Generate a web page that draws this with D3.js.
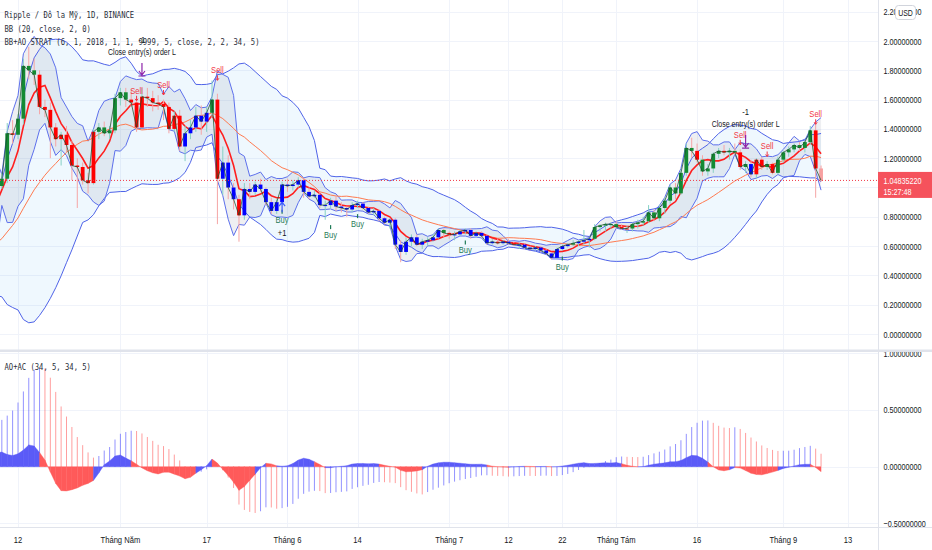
<!DOCTYPE html>
<html>
<head>
<meta charset="utf-8">
<script src="https://cdn.jsdelivr.net/npm/d3@7"></script>
<style>
  html, body { margin: 0; padding: 0; background: #fff; }
  svg { display: block; }
</style>
</head>
<body>
<svg id="chart" width="932" height="550"></svg>
<script>
// ---- data (XRPUSDT daily, Binance) ----
const firstDay = "2021-04-09";

// closes before the first visible bar, only used to seed BB / AO
const preCloses = [0.44,
  0.45,0.44,0.44,0.45,0.45,0.45,0.46,0.45,0.45,0.44,
  0.45,0.44,0.43,0.43,0.47,0.48,0.47,0.46,0.46,0.46,
  0.46,0.51,0.52,0.53,0.53,0.55,0.57,0.57,0.57,
  0.57,0.59,0.60,0.61,0.93,1.02,0.92,0.99];

// [open, high, low, close]
const ohlc = [
  // April 9 - 30
  [1.01,1.10,0.99,1.06],[1.06,1.44,1.03,1.37],[1.37,1.46,1.30,1.36],[1.36,1.50,1.33,1.47],
  [1.47,1.88,1.43,1.83],[1.83,1.96,1.74,1.80],[1.80,1.88,1.70,1.77],[1.77,1.80,1.50,1.55],
  [1.55,1.60,1.48,1.53],[1.53,1.58,1.20,1.41],[1.41,1.44,1.28,1.33],[1.33,1.38,1.15,1.36],
  [1.36,1.42,1.24,1.29],[1.29,1.32,1.05,1.15],[1.15,1.20,0.86,1.14],[1.14,1.17,1.02,1.05],
  [1.05,1.10,0.96,1.03],[1.03,1.40,1.02,1.38],[1.38,1.44,1.33,1.41],[1.41,1.45,1.35,1.37],
  [1.37,1.42,1.33,1.39],[1.39,1.64,1.37,1.61],
  // May
  [1.61,1.68,1.56,1.65],[1.65,1.68,1.55,1.60],[1.60,1.67,1.55,1.58],[1.58,1.62,1.38,1.41],
  [1.41,1.68,1.40,1.62],[1.62,1.68,1.55,1.61],[1.61,1.66,1.52,1.58],[1.58,1.63,1.53,1.57],
  [1.57,1.60,1.46,1.55],[1.55,1.58,1.37,1.40],[1.40,1.52,1.38,1.49],[1.49,1.53,1.25,1.28],
  [1.28,1.42,1.18,1.37],[1.37,1.46,1.33,1.41],[1.41,1.55,1.38,1.49],[1.49,1.56,1.36,1.45],
  [1.45,1.55,1.38,1.51],[1.51,1.73,1.48,1.60],[1.60,1.64,0.75,1.06],[1.06,1.28,0.95,1.17],
  [1.17,1.22,0.92,1.00],[1.00,1.03,0.85,0.92],[0.92,0.95,0.63,0.81],[0.81,1.03,0.78,0.99],
  [0.99,1.03,0.92,0.97],[0.97,1.04,0.95,1.02],[1.02,1.06,0.97,0.99],[0.99,1.00,0.88,0.90],
  [0.90,0.93,0.82,0.84],[0.84,0.92,0.82,0.90],[0.90,1.04,0.88,1.02],
  // June
  [1.02,1.06,0.97,1.01],[1.01,1.05,0.98,1.02],[1.02,1.07,1.00,1.05],[1.05,1.06,0.93,0.97],
  [0.97,1.00,0.92,0.94],[0.94,0.98,0.93,0.95],[0.95,0.97,0.86,0.88],[0.88,0.91,0.78,0.88],
  [0.88,0.93,0.86,0.91],[0.91,0.94,0.84,0.87],[0.87,0.90,0.83,0.86],[0.86,0.87,0.80,0.85],
  [0.85,0.90,0.83,0.88],[0.88,0.91,0.86,0.89],[0.89,0.90,0.85,0.86],[0.86,0.87,0.82,0.83],
  [0.83,0.86,0.81,0.84],[0.84,0.85,0.77,0.79],[0.79,0.80,0.75,0.76],[0.76,0.79,0.72,0.78],
  [0.78,0.79,0.58,0.61],[0.61,0.64,0.49,0.56],[0.56,0.66,0.54,0.63],[0.63,0.68,0.60,0.66],
  [0.66,0.68,0.60,0.61],[0.61,0.65,0.58,0.63],[0.63,0.66,0.60,0.64],[0.64,0.68,0.63,0.66],
  [0.66,0.72,0.65,0.71],[0.71,0.72,0.66,0.69],
  // July
  [0.69,0.70,0.65,0.68],[0.68,0.70,0.64,0.68],[0.68,0.71,0.67,0.70],[0.70,0.72,0.68,0.71],
  [0.71,0.72,0.65,0.67],[0.67,0.70,0.66,0.69],[0.69,0.70,0.66,0.67],[0.67,0.68,0.61,0.62],
  [0.62,0.65,0.61,0.63],[0.63,0.65,0.61,0.62],[0.62,0.64,0.61,0.63],[0.63,0.65,0.61,0.62],
  [0.62,0.63,0.60,0.61],[0.61,0.62,0.58,0.61],[0.61,0.62,0.58,0.59],[0.59,0.60,0.57,0.58],
  [0.58,0.60,0.57,0.59],[0.59,0.60,0.56,0.57],[0.57,0.58,0.54,0.55],[0.55,0.56,0.51,0.52],
  [0.52,0.59,0.51,0.58],[0.58,0.61,0.57,0.60],[0.60,0.62,0.59,0.61],[0.61,0.64,0.60,0.62],
  [0.62,0.64,0.60,0.63],[0.63,0.71,0.61,0.64],[0.64,0.66,0.59,0.65],[0.65,0.75,0.64,0.73],
  [0.73,0.75,0.70,0.74],[0.74,0.76,0.70,0.75],[0.75,0.76,0.72,0.75],
  // August
  [0.75,0.77,0.72,0.73],[0.73,0.75,0.71,0.72],[0.72,0.74,0.69,0.72],[0.72,0.76,0.70,0.75],
  [0.75,0.78,0.72,0.76],[0.76,0.80,0.74,0.77],[0.77,0.88,0.76,0.83],[0.83,0.85,0.77,0.79],
  [0.79,0.88,0.77,0.86],[0.86,0.93,0.82,0.91],[0.91,1.02,0.89,1.00],[1.00,1.03,0.92,0.96],
  [0.96,1.12,0.95,1.10],[1.10,1.30,1.08,1.27],[1.27,1.34,1.20,1.25],[1.25,1.30,1.17,1.19],
  [1.19,1.22,1.08,1.11],[1.11,1.16,1.08,1.13],[1.13,1.24,1.10,1.23],[1.23,1.27,1.20,1.25],
  [1.25,1.29,1.22,1.24],[1.24,1.27,1.19,1.25],[1.25,1.30,1.22,1.24],[1.24,1.26,1.12,1.14],
  [1.14,1.18,1.10,1.16],[1.16,1.19,1.07,1.09],[1.09,1.20,1.06,1.19],[1.19,1.21,1.12,1.14],
  [1.14,1.18,1.12,1.16],[1.16,1.17,1.09,1.10],[1.10,1.21,1.09,1.19],
  // September 1 - 8
  [1.19,1.25,1.17,1.24],[1.24,1.28,1.21,1.26],[1.26,1.30,1.24,1.29],[1.29,1.31,1.25,1.27],
  [1.27,1.32,1.24,1.31],[1.31,1.42,1.29,1.39],[1.39,1.45,0.93,1.13],[1.13,1.15,1.04,1.0483522]
];

// strategy bar colour per candle: g = green, r = red, b = blue, l = live bar
const barColors = (
  "ggrgggg" + "rrrrrrrrrrr" + "gggg" +                                   // Apr
  "gg" + "rrrrrrrrrr" + "bbbbb" + "g" + "r" + "bbb" + "r" + "bbbbbbbb" +   // May
  "bbbbbbbbbbbbbbbbbbbbbbbbbbbbb" + "g" +                                // Jun
  "r" + "bbbbbbbb" + "r" + "bb" + "r" + "bbbbbbbbbb" + "g" + "bbb" + "gggg" + // Jul
  "g" + "rr" + "gggggggggggg" + "r" + "gggg" + "r" + "gg" + "r" + "g" + "b" + "rr" + "g" + "r" + "g" + // Aug
  "ggggggrl"                                                              // Sep
).split("");

const lastPrice = 1.04835220;
const lastTime = "15:27:48";

const priceTicks = [0, 0.2, 0.4, 0.6, 0.8, 1.2, 1.4, 1.6, 1.8, 2.0, 2.2]; // 1.0 sits under the price tag
const aoTicks = [1, 0.5, 0, -0.5];
const tickDates = ["2021-04-12","2021-05-01","2021-05-17","2021-06-01","2021-06-14","2021-07-01",
                   "2021-07-12","2021-07-22","2021-08-01","2021-08-16","2021-09-01","2021-09-13"];
const tickLabels = ["12","Tháng Năm","17","Tháng 6","14","Tháng 7","12","22","Tháng Tám","16","Tháng 9","13"];

const sellDates = ["2021-05-04","2021-05-09","2021-05-19","2021-08-24","2021-08-29","2021-09-07"];
const sellLevels = [1.66, 1.70, 1.80, 1.36, 1.28, 1.50];
const buyDates = ["2021-05-31","2021-06-09","2021-06-14","2021-07-04","2021-07-22"];
const buyLevels = [0.78, 0.675, 0.75, 0.57, 0.46];
const exitDates = ["2021-05-05","2021-08-25"];
const exitLevels = [1.925, 1.433];
const entryDates = ["2021-05-31"];
const entryLevels = [0.90];

// ---- indicators ----
const parse = d3.utcParse("%Y-%m-%d");
const day0 = parse(firstDay);
const nPre = preCloses.length;
const allDates = d3.range(-nPre, ohlc.length).map(i => d3.utcDay.offset(day0, i));
const allClose = preCloses.concat(ohlc.map(d => d[3]));
const allMedian = preCloses.concat(ohlc.map(d => (d[1] + d[2]) / 2));

function sma(arr, n) {
  return arr.map((_, i) => {
    if (i < n - 1 || arr[i - n + 1] == null) return null;
    return d3.mean(arr.slice(i - n + 1, i + 1));
  });
}
function bands(arr, n, mult) {
  const mid = sma(arr, n);
  return arr.map((_, i) => {
    if (mid[i] == null) return null;
    const w = arr.slice(i - n + 1, i + 1);
    const sd = Math.sqrt(d3.mean(w, v => (v - mid[i]) ** 2));
    return { i, mid: mid[i], up: mid[i] + mult * sd, lo: mid[i] - mult * sd };
  }).filter(d => d);
}
const bb20 = bands(allClose, 20, 2);
const bb5 = bands(allClose, 5, 2);
const sma5m = sma(allMedian, 5), sma34m = sma(allMedian, 34);
const ao = allMedian.map((_, i) => sma34m[i] == null ? null : sma5m[i] - sma34m[i]);
const aoAvg = sma(ao, 5);
const ac = ao.map((v, i) => aoAvg[i] == null ? null : v - aoAvg[i]);
const aoUp = ao.map((v, i) => i > 0 && ao[i - 1] != null && v >= ao[i - 1]);

// ---- layout ----
const W = 932, H = 550, axisX = 878, mainBottom = 349, subTop = 352, subBottom = 527;
const svg = d3.select("#chart");
const x = d3.scaleUtc().domain([parse("2021-04-12"), parse("2021-09-13")]).range([18, 848]);
const y = d3.scaleLinear().domain([0, 2.2]).range([334, 11.7]);
const ys = d3.scaleLinear().domain([-0.5, 1]).range([523.3, 353.3]);

const defs = svg.append("defs");
defs.append("clipPath").attr("id", "clipMain").append("rect").attr("x", 0).attr("y", 0).attr("width", axisX).attr("height", mainBottom);
defs.append("clipPath").attr("id", "clipSub").append("rect").attr("x", 0).attr("y", subTop).attr("width", axisX).attr("height", subBottom - subTop);
defs.append("clipPath").attr("id", "clipSubAxis").append("rect").attr("x", axisX).attr("y", subTop).attr("width", W - axisX).attr("height", subBottom - subTop);

// the chart font is narrow: draw at a smaller size and stretch it back up vertically
function label(g, px, py, str, o = {}) {
  const s = o.squeeze || 0.78, size = o.size || 9.5;
  return g.append("text")
    .attr("transform", `translate(${px},${py}) scale(1,${(1 / s).toFixed(4)})`)
    .text(str)
    .attr("font-family", o.font || "'Liberation Sans', Arial, sans-serif")
    .attr("font-size", (size * s).toFixed(2))
    .attr("fill", o.color || "#131722")
    .attr("text-anchor", o.anchor || "start");
}

// grid
const grid = svg.append("g").attr("stroke", "#f0f3fa").attr("stroke-width", 1);
tickDates.forEach(d => {
  const px = Math.round(x(parse(d))) + 0.5;
  grid.append("line").attr("x1", px).attr("x2", px).attr("y1", 0).attr("y2", subBottom);
});
priceTicks.concat([1.0]).forEach(v => {
  const py = Math.round(y(v)) + 0.5;
  grid.append("line").attr("x1", 0).attr("x2", axisX).attr("y1", py).attr("y2", py);
});
aoTicks.forEach(v => {
  const py = Math.round(ys(v)) + 0.5;
  grid.append("line").attr("x1", 0).attr("x2", axisX).attr("y1", py).attr("y2", py);
});

// ---- main pane ----
const main = svg.append("g").attr("clip-path", "url(#clipMain)");
const X = i => x(allDates[i]);

main.append("path").datum(bb20)
  .attr("d", d3.area().x(d => X(d.i)).y0(d => y(d.lo)).y1(d => y(d.up)))
  .attr("fill", "rgba(33,150,243,0.07)");
main.append("path").datum(bb5)
  .attr("d", d3.area().x(d => X(d.i)).y0(d => y(d.lo)).y1(d => y(d.up)))
  .attr("fill", "rgba(100,110,140,0.11)");

const bandLine = (data, key, color, w) => main.append("path").datum(data)
  .attr("d", d3.line().x(d => X(d.i)).y(d => y(d[key])))
  .attr("fill", "none").attr("stroke", color).attr("stroke-width", w);
bandLine(bb20, "up", "#4f63e8", 1);
bandLine(bb20, "lo", "#4f63e8", 1);
bandLine(bb5, "up", "#5d70ec", 1);
bandLine(bb5, "lo", "#5d70ec", 1);
bandLine(bb20, "mid", "#ff7a50", 1);
bandLine(bb5, "mid", "#ff1f1f", 1.6);

// candles
const bodyFill = { g: "#138a33", r: "#ff0000", b: "#0000ff", l: "#f7a0a0" };
const candles = main.append("g");
ohlc.forEach((d, k) => {
  const i = k + nPre, cx = X(i);
  const up = d[3] >= d[0];
  const wick = barColors[k] === "l" ? "#f7a0a0" : (up ? "#86d0c4" : "#f5a5a5");
  candles.append("line").attr("x1", cx).attr("x2", cx).attr("y1", y(d[1])).attr("y2", y(d[2]))
    .attr("stroke", wick).attr("stroke-width", 1);
  const top = y(Math.max(d[0], d[3])), bot = y(Math.min(d[0], d[3]));
  candles.append("rect").attr("x", cx - 1.9).attr("width", 3.8)
    .attr("y", top).attr("height", Math.max(1, bot - top))
    .attr("fill", bodyFill[barColors[k]]);
});

// thin close line of the strategy
main.append("path").datum(ohlc.map((d, k) => [X(k + nPre), y(d[3])]))
  .attr("d", d3.line()).attr("fill", "none").attr("stroke", "#1b4d2a")
  .attr("stroke-width", 1).attr("opacity", 0.75);

// last price line
main.append("line").attr("x1", 0).attr("x2", axisX)
  .attr("y1", y(lastPrice)).attr("y2", y(lastPrice))
  .attr("stroke", "#f23645").attr("stroke-dasharray", "1,2").attr("stroke-width", 1);

// signals
const ann = svg.append("g").attr("clip-path", "url(#clipMain)");
sellDates.forEach((d, k) => {
  const px = x(parse(d)), py = y(sellLevels[k]);
  label(ann, px, py + 3, "Sell", { color: "#f23645", anchor: "middle", size: 9.5, squeeze: 0.8 });
  ann.append("path").attr("d", `M${px},${py + 5} L${px},${py + 10} M${px - 1.5},${py + 8} L${px},${py + 10} L${px + 1.5},${py + 8}`)
    .attr("stroke", "#f23645").attr("fill", "none").attr("stroke-width", 1);
});
buyDates.forEach((d, k) => {
  const px = x(parse(d)), py = y(buyLevels[k]);
  label(ann, px, py + 3, "Buy", { color: "#1f7a57", anchor: "middle", size: 9.5, squeeze: 0.8 });
  ann.append("path").attr("d", `M${px},${py - 6} L${px},${py - 10}`)
    .attr("stroke", "#1f7a57").attr("stroke-width", 1.2);
});
exitDates.forEach((d, k) => {
  const px = x(parse(d)), py = y(exitLevels[k]);
  label(ann, px, py + 3, "Close entry(s) order L", { anchor: "middle", size: 9.5, squeeze: 0.74 });
  label(ann, px, py - 9, "-1", { anchor: "middle", size: 9.5, squeeze: 0.8 });
  ann.append("path")
    .attr("d", `M${px},${py + 11} L${px},${py + 23} M${px - 3},${py + 19} L${px},${py + 23} L${px + 3},${py + 19} M${px - 3.5},${py + 24} L${px + 3.5},${py + 24}`)
    .attr("stroke", "#8e24aa").attr("stroke-width", 1.2).attr("fill", "none");
});
entryDates.forEach((d, k) => {
  const px = x(parse(d)), py = y(entryLevels[k]);
  ann.append("path")
    .attr("d", `M${px},${py} L${px},${py + 10} M${px - 3},${py + 4} L${px},${py} L${px + 3},${py + 4}`)
    .attr("stroke", "#3d5afe").attr("stroke-width", 1.2).attr("fill", "none");
  label(ann, px, py + 34, "+1", { anchor: "middle", size: 9.5, squeeze: 0.8 });
});

// ---- oscillator pane ----
const sub = svg.append("g").attr("clip-path", "url(#clipSub)");
const zero = ys(0);
ao.forEach((v, i) => {
  if (v == null) return;
  sub.append("line").attr("x1", X(i)).attr("x2", X(i)).attr("y1", zero).attr("y2", ys(v))
    .attr("stroke", aoUp[i] ? "rgba(40,40,255,0.5)" : "rgba(255,40,40,0.45)").attr("stroke-width", 1);
});
const seg = d3.area().x(d => d[0]).y0(zero).y1(d => d[1]);
ac.forEach((v, i) => {
  if (v == null || ac[i - 1] == null) return;
  const col = aoUp[i] ? "#5b5bf7" : "#ff5a5a";
  sub.append("path").datum([[X(i - 1), ys(ac[i - 1])], [X(i), ys(v)]])
    .attr("d", seg).attr("fill", col).attr("stroke", col).attr("stroke-width", 0.4);
});

// ---- frames ----
svg.append("rect").attr("x", 0).attr("y", 349.5).attr("width", W).attr("height", 2.5).attr("fill", "#e0e3eb");
svg.append("line").attr("x1", 0).attr("x2", W).attr("y1", subBottom + 0.5).attr("y2", subBottom + 0.5)
  .attr("stroke", "#e0e3eb");
svg.append("line").attr("x1", axisX + 0.5).attr("x2", axisX + 0.5).attr("y1", 0).attr("y2", H)
  .attr("stroke", "#e0e3eb");

// ---- axes ----
const axR = svg.append("g");
const fmt = d3.format(".8f");
priceTicks.forEach(v => label(axR, 883.5, y(v) + 3.5, fmt(v), { squeeze: 0.76 }));
const axS = svg.append("g").attr("clip-path", "url(#clipSubAxis)");
aoTicks.forEach(v => label(axS, 883.5, ys(v) + 3.5, fmt(v), { squeeze: 0.76 }));

const axB = svg.append("g");
tickDates.forEach((d, k) => label(axB, x(parse(d)), 542.5, tickLabels[k], { anchor: "middle", squeeze: 0.8 }));

// USD badge
svg.append("rect").attr("x", 895.5).attr("y", 5.5).attr("width", 20).attr("height", 14).attr("rx", 3)
  .attr("fill", "#fff").attr("stroke", "#d1d4dc");
label(svg, 905.5, 15.5, "USD", { anchor: "middle", size: 8.5, squeeze: 0.82 });

// last price tag
const py0 = y(lastPrice);
svg.append("rect").attr("x", axisX).attr("y", py0 - 8.5).attr("width", W - axisX).attr("height", 26).attr("fill", "#f5525c");
label(svg, 883.5, py0 + 3.5, fmt(lastPrice), { color: "#fff", squeeze: 0.76 });
label(svg, 883.5, py0 + 14.5, lastTime, { color: "#fff", squeeze: 0.76 });

// legends
const mono = "'DejaVu Sans Mono', 'Liberation Mono', monospace";
const leg = svg.append("g");
label(leg, 4.5, 18, "Ripple / Đô la Mỹ, 1D, BINANCE", { font: mono, size: 9, color: "#2a2e39", squeeze: 0.8 });
label(leg, 4.5, 31.5, "BB (20, close, 2, 0)", { font: mono, size: 9, color: "#2a2e39", squeeze: 0.8 });
label(leg, 4.5, 45, "BB+AO STRAT (6, 1, 2018, 1, 1, 9999, 5, close, 2, 2, 34, 5)", { font: mono, size: 9, color: "#2a2e39", squeeze: 0.8 });
label(leg, 4.5, 370, "AO+AC (34, 5, 34, 5)", { font: mono, size: 9, color: "#2a2e39", squeeze: 0.8 });
</script>
</body>
</html>
